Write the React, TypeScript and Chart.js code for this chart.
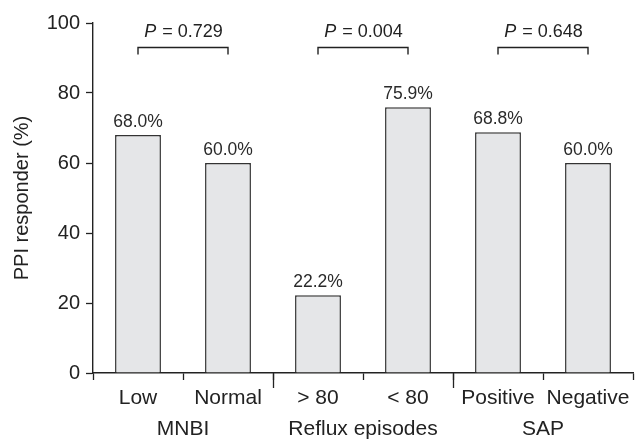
import React, { useEffect, useRef } from 'react';
import { Chart, registerables } from 'chart.js';

Chart.register(...registerables);

const categories = ['Low', 'Normal', '> 80', '< 80', 'Positive', 'Negative'];
const groups = ['MNBI', 'Reflux episodes', 'SAP'];
const responderPct = [68.0, 60.0, 22.2, 75.9, 68.8, 60.0];
const pValues = ['0.729', '0.004', '0.648'];
const bracketLevel = 93.2;
const yTicks = [0, 20, 40, 60, 80, 100];
const yTitle = 'PPI responder (%)';

const FONT = '"Liberation Sans", Arial, Helvetica, sans-serif';
const INK = '#222222';

const annotatePlugin = {
  id: 'annotate',
  afterDatasetsDraw(chart: any) {
    const ctx = chart.ctx;
    const meta = chart.getDatasetMeta(0);
    const x = chart.scales.x;
    const y = chart.scales.y;
    ctx.save();
    // value labels
    ctx.font = `17.5px ${FONT}`;
    ctx.fillStyle = '#2a2a2a';
    ctx.textAlign = 'center';
    ctx.textBaseline = 'alphabetic';
    meta.data.forEach((bar: any, i: number) => {
      ctx.fillText(responderPct[i].toFixed(1) + '%', bar.x, bar.y - 8);
    });
    // P brackets
    const by = Math.round(y.getPixelForValue(bracketLevel)) + 0.5;
    ctx.strokeStyle = INK;
    ctx.lineWidth = 1.4;
    pValues.forEach((p, g) => {
      const x1 = x.getPixelForValue(2 * g);
      const x2 = x.getPixelForValue(2 * g + 1);
      ctx.beginPath();
      ctx.moveTo(x1, by + 7);
      ctx.lineTo(x1, by);
      ctx.lineTo(x2, by);
      ctx.lineTo(x2, by + 7);
      ctx.stroke();
      const italic = `italic 18px ${FONT}`;
      const normal = `18px ${FONT}`;
      const rest = ' = ' + p;
      ctx.font = italic;
      const wP = ctx.measureText('P').width;
      ctx.font = normal;
      const wR = ctx.measureText(rest).width;
      const start = (x1 + x2) / 2 - (wP + wR) / 2;
      ctx.textAlign = 'left';
      ctx.fillStyle = INK;
      ctx.font = italic;
      ctx.fillText('P', start, by - 11);
      ctx.font = normal;
      ctx.fillText(rest, start + wP + 1, by - 11);
    });
    // longer group separator ticks
    ctx.lineWidth = 1.3;
    for (let g = 1; g < groups.length; g++) {
      const xb = Math.round((x.getPixelForValue(2 * g - 1) + x.getPixelForValue(2 * g)) / 2) + 0.5;
      ctx.beginPath();
      ctx.moveTo(xb, x.top);
      ctx.lineTo(xb, x.top + 15);
      ctx.stroke();
    }
    ctx.restore();
  },
};

export default function App() {
  const ref = useRef<HTMLCanvasElement | null>(null);
  useEffect(() => {
    if (!ref.current) return;
    Chart.defaults.font.family = FONT;
    const chart = new Chart(ref.current, {
      type: 'bar',
      data: {
        labels: categories,
        datasets: [
          {
            data: responderPct,
            backgroundColor: '#e5e6e8',
            borderColor: '#333333',
            borderWidth: 1.5,
            barPercentage: 0.51,
            categoryPercentage: 1,
          },
        ],
      },
      options: {
        animation: false,
        responsive: false,
        layout: { padding: { top: 23, right: 2, left: 0, bottom: 0 } },
        plugins: { legend: { display: false }, tooltip: { enabled: false } },
        scales: {
          x: {
            type: 'category',
            position: 'bottom',
            weight: 0,
            offset: true,
            grid: {
              display: true,
              offset: true,
              drawOnChartArea: false,
              drawTicks: true,
              tickLength: 7,
              tickColor: INK,
              tickWidth: 1.3,
            },
            border: { display: true, color: INK, width: 1.4 },
            ticks: {
              font: { size: 21 },
              color: INK,
              padding: 6,
              autoSkip: false,
              maxRotation: 0,
              minRotation: 0,
            },
            afterFit(scale: any) {
              scale.height = 38;
              scale.paddingLeft = 0;
              scale.paddingRight = 0;
            },
          },
          x2: {
            type: 'category',
            position: 'bottom',
            weight: 1,
            labels: groups,
            offset: true,
            grid: { display: false, drawTicks: false },
            border: { display: false },
            ticks: {
              font: { size: 21 },
              color: INK,
              padding: 6,
              autoSkip: false,
              maxRotation: 0,
              minRotation: 0,
            },
            afterFit(scale: any) {
              scale.height = 30;
              scale.paddingLeft = 0;
              scale.paddingRight = 0;
            },
          },
          y: {
            min: 0,
            max: 100,
            grid: {
              display: true,
              drawOnChartArea: false,
              drawTicks: true,
              tickLength: 7,
              tickColor: INK,
              tickWidth: 1.3,
            },
            border: { display: true, color: INK, width: 1.4 },
            ticks: { font: { size: 20 }, color: INK, padding: 6 },
            title: {
              display: true,
              text: yTitle,
              font: { size: 20 },
              color: INK,
              padding: { top: 10, bottom: 0 },
            },
            afterBuildTicks(scale: any) {
              scale.ticks = yTicks.map((v) => ({ value: v }));
            },
            afterFit(scale: any) {
              scale.width = 93;
              scale.paddingTop = 0;
              scale.paddingBottom = 0;
            },
          },
        },
      },
      plugins: [annotatePlugin],
    });
    return () => chart.destroy();
  }, []);
  return (
    <div style={{ position: 'absolute', left: 0, top: 0, width: 635, height: 441, background: '#fff' }}>
      <canvas ref={ref} width={635} height={441} style={{ display: 'block', width: 635, height: 441 }} />
    </div>
  );
}
